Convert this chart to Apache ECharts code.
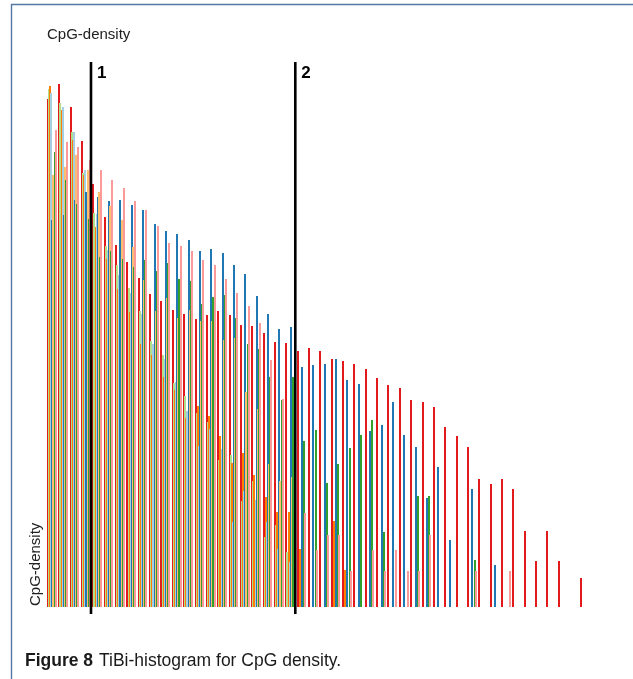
<!DOCTYPE html>
<html>
<head>
<meta charset="utf-8">
<title>TiBi-histogram for CpG density</title>
<script src="https://cdn.jsdelivr.net/npm/echarts@6/dist/echarts.min.js"></script>
<style>
  html, body { margin: 0; padding: 0; background: #ffffff; }
  #chart { width: 633px; height: 679px; }
</style>
</head>
<body>
<div id="chart"></div>
<script>
// Histogram bins (one per CpG-density class) and per-group counts.
const bins = Array.from({ length: 48 }, (_, i) => i + 1);

const redCounts = [101.7, 104.6, 100, 93.3, 84.7, 78, 72.4, 69, 65.8, 62.6, 61.2, 59.4, 58.6, 57.6, 58.4, 59.2,
  58.4, 56.4, 56.2, 54.8, 53, 52.8, 51.2, 51.8, 51.2, 49.6, 49.2, 48.6, 47.6, 45.8, 44.4, 43.8,
  41.4, 41, 40, 36, 34.2, 32, 25.6, 24.6, 25.6, 23.6, 15.2, 9.2, 15.2, 9.2, 0, 5.8];
const lightGreenCounts = [103.6, 100.9, 95.1, 86.9, 78.8, 72.2, 68.5, 63.8, 59.2, 53.2, 50.4, 44.8, 42.2, 38.8, 37, 29.4,
  30.4, 21.2, 25.2, 14, 16.4, 11, 0, 0, 0, 0, 0, 0, 0, 0, 0, 0,
  0, 0, 0, 0, 0, 0, 0, 0, 0, 0, 0, 0, 0, 0, 0, 0];
const orangeCounts = [104.3, 99.5, 93.5, 86.4, 76, 69.6, 63.7, 59, 52.6, 50.4, 46, 43.4, 37.8, 40.2, 38.2, 34.2,
  28.8, 30.8, 26.4, 22, 19, 19, 11.6, 0, 0, 17.2, 7.4, 0, 0, 0, 0, 0,
  0, 0, 0, 0, 0, 0, 0, 0, 0, 0, 0, 0, 0, 0, 0, 0];
const lightBlueCounts = [102.9, 100, 95.1, 87.4, 78.6, 71.4, 66.4, 62.8, 58.6, 52.6, 49.6, 45, 39.2, 32.2, 35.6, 31.6,
  17, 23.2, 21.4, 17, 11.6, 9, 0, 0, 0, 0, 0, 0, 0, 0, 0, 0,
  0, 0, 0, 0, 0, 0, 0, 0, 0, 0, 0, 0, 0, 0, 0, 0];
const blueCounts = [77.4, 78.4, 81.4, 83, 82, 81.2, 81.4, 80.4, 79.4, 76.6, 75.2, 74.6, 73.4, 71.2, 71.6, 70.8,
  68.4, 66.6, 62.2, 58.6, 55.6, 56, 48, 48.4, 48.6, 49.6, 45.4, 44.6, 35.2, 36.4, 41, 34.4,
  32, 21.8, 28, 13.4, 0, 23.6, 0, 8.4, 0, 0, 0, 0, 0, 0, 0, 0];
const lightOrangeCounts = [86.4, 88.1, 90.5, 87.4, 83, 80.2, 77.4, 72, 65.4, 59.2, 61.8, 57.8, 59.4, 57.2, 57.2, 53.4,
  53.8, 43, 39.6, 28.6, 25.2, 26, 0, 0, 0, 0, 0, 0, 0, 0, 0, 0,
  0, 0, 0, 0, 0, 0, 0, 0, 0, 0, 0, 0, 0, 0, 0, 0];
const greenCounts = [91, 85.4, 80.6, 77.6, 70, 71.2, 69.6, 68, 69.4, 67.2, 68.8, 65.6, 65.2, 60.6, 62, 62.4,
  57.8, 52.6, 51.6, 46, 41.4, 46, 33.2, 35.4, 24.8, 28.6, 31.8, 34.4, 37.4, 15, 0, 0,
  22.2, 22.2, 0, 0, 0, 9.4, 0, 0, 0, 0, 0, 0, 0, 0, 0, 0];
const pinkCounts = [95.4, 93.1, 92.1, 89.5, 87.4, 85.5, 83.8, 81.2, 79.4, 76.2, 72.8, 72.2, 71.2, 69.4, 68.4, 65.6,
  62.8, 60.2, 56.8, 49.4, 41.6, 0, 18.8, 11.4, 14.4, 14.4, 7.2, 0, 11.4, 7.2, 11.4, 7.2,
  7.2, 14.4, 0, 0, 0, 7.2, 0, 0, 7.2, 0, 0, 0, 0, 0, 0, 0];

// Class boundaries (in bin units) and their labels.
const dividers = [3.79, 21.79];
const dividerLabels = ['1', '2'];

const axisName = 'CpG-density';
const captionLead = 'Figure 8';
const captionText = 'TiBi-histogram for CpG density.';

// Groups in drawing order; each one sits a little further right inside its bin.
const groups = [
  { name: 'A', values: redCounts, color: '#e31a1c' },
  { name: 'B', values: lightGreenCounts, color: '#b2df8a' },
  { name: 'C', values: orangeCounts, color: '#ff7f00' },
  { name: 'D', values: lightBlueCounts, color: '#a6cee3' },
  { name: 'E', values: blueCounts, color: '#1f78b4' },
  { name: 'F', values: lightOrangeCounts, color: '#fdbf6f' },
  { name: 'G', values: greenCounts, color: '#33a02c' },
  { name: 'H', values: pinkCounts, color: '#fb9a99' }
];

const STEP = 0.097;      // shift between neighbouring groups, in bin units
const BAR_PX = 2;        // bar width in pixels
const Y_MAX = 110;

// One crisp, pixel-aligned bar per data point.
function renderBar(params, api) {
  const x = api.value(0);
  const v = api.value(1);
  const base = api.coord([x, 0]);
  const top = api.coord([x, v]);
  const left = Math.round(base[0] - BAR_PX / 2);
  const yTop = Math.round(top[1]);
  const yBase = Math.round(base[1]);
  return {
    type: 'rect',
    shape: { x: left, y: yTop, width: BAR_PX, height: yBase - yTop },
    style: { fill: api.visual('color') }
  };
}

const barSeries = groups.map((g, s) => ({
  type: 'custom',
  name: g.name,
  renderItem: renderBar,
  clip: false,
  silent: true,
  color: g.color,
  z: 2 + s,
  encode: { x: 0, y: 1 },
  data: g.values
    .map((v, i) => [i + s * STEP, v])
    .filter(d => d[1] > 0)
}));

const dividerSeries = {
  type: 'custom',
  name: 'dividers',
  clip: false,
  silent: true,
  z: 20,
  encode: { x: 0, y: 1 },
  data: dividers.map((d) => [d, Y_MAX - 1]),
  renderItem: function (params, api) {
    const x = api.value(0);
    const top = api.coord([x, 109]);
    const bottom = api.coord([x, -1.4]);
    return {
      type: 'group',
      children: [
        {
          type: 'line',
          shape: { x1: top[0], y1: top[1], x2: bottom[0], y2: bottom[1] },
          style: { stroke: '#000000', lineWidth: 2.6 }
        },
        {
          type: 'text',
          x: top[0] + 6,
          y: top[1] + 3,
          style: {
            text: dividerLabels[params.dataIndex],
            fill: '#000000',
            font: 'bold 17px "Liberation Sans", Arial, sans-serif',
            align: 'left',
            verticalAlign: 'top'
          }
        }
      ]
    };
  }
};

const chart = echarts.init(document.getElementById('chart'), null, { renderer: 'canvas' });
chart.setOption({
  animation: false,
  backgroundColor: '#ffffff',
  title: {
    text: axisName,
    left: 42,
    top: 22,
    textStyle: { fontFamily: 'Liberation Sans', fontSize: 15, fontWeight: 'normal', color: '#222222' }
  },
  grid: { left: 42.3, right: 40.2, top: 57, bottom: 72 },
  xAxis: { type: 'value', min: -0.5, max: bins.length, show: false },
  yAxis: { type: 'value', min: 0, max: Y_MAX, show: false },
  series: barSeries.concat([dividerSeries]),
  graphic: [
    {
      type: 'rect',
      silent: true,
      shape: { x: 11.5, y: 4.5, width: 700, height: 700 },
      style: { fill: 'none', stroke: '#5577a3', lineWidth: 1.4 }
    },
    {
      type: 'text',
      x: 43,
      y: 606,
      rotation: Math.PI / 2,
      style: {
        text: axisName,
        fill: '#222222',
        font: '15px "Liberation Sans", Arial, sans-serif',
        align: 'left',
        verticalAlign: 'bottom'
      }
    },
    {
      type: 'text',
      x: 25,
      y: 661,
      style: {
        text: captionLead,
        fill: '#1a1a1a',
        font: 'bold 17.5px "Liberation Sans", Arial, sans-serif',
        align: 'left',
        verticalAlign: 'middle'
      }
    },
    {
      type: 'text',
      x: 99,
      y: 661,
      style: {
        text: captionText,
        fill: '#1a1a1a',
        font: '17.5px "Liberation Sans", Arial, sans-serif',
        align: 'left',
        verticalAlign: 'middle'
      }
    }
  ]
});
</script>
</body>
</html>
